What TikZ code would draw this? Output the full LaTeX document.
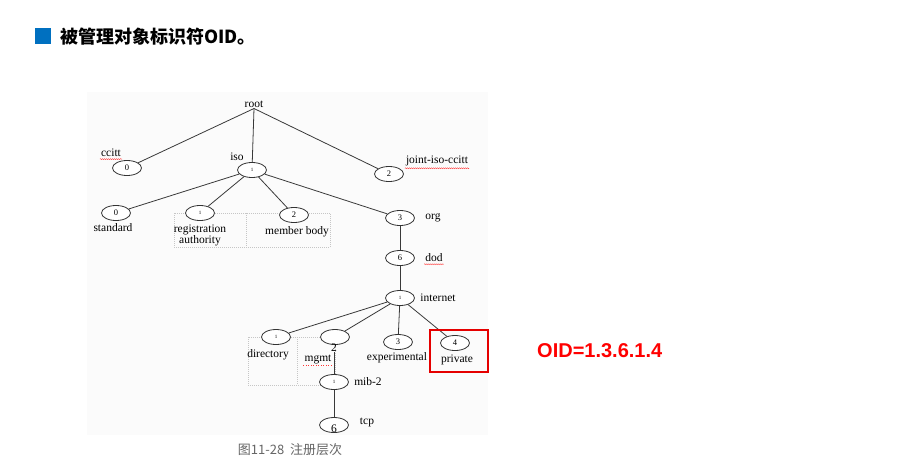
\documentclass[tikz,border=0pt]{standalone}
\usepackage{fontspec}
\setmainfont{Liberation Serif}
\newfontfamily\cjk{Noto Sans CJK SC}
\newfontfamily\arialfont{Liberation Sans}
\usetikzlibrary{shapes.geometric,decorations.pathmorphing}
\definecolor{titleblue}{HTML}{0070C0}
\begin{document}
\begin{tikzpicture}[x=1pt, y=-1pt, node distance=40pt,
    oid/.style={ellipse, draw=gray!40!black, fill=white, line width=0.8pt, minimum width=29pt, minimum height=15pt, inner sep=0pt, font=\fontsize{8.5}{8.5}\selectfont},
    lbl/.style={inner sep=1pt, font=\fontsize{11.5}{10.5}\selectfont},
    bignum/.style={inner sep=0pt, font=\fontsize{11.5}{11.5}\selectfont},
    link/.style={draw=gray!45!black, line width=0.8pt},
    cellbox/.style={draw=gray!45, line width=0.4pt, dash pattern=on 1pt off 1pt},
    squig/.style={draw=red!80, line width=0.4pt, decorate, decoration={snake, amplitude=0.5pt, segment length=2pt}}]
    \useasboundingbox (0,0) rectangle (912,472);
    \fill[white] (0,0) rectangle (912,472);
    \fill[black!1.5] (87,92) rectangle (488,435);
    % title
    \fill[titleblue] (35,28) rectangle (51,44);
    \node [anchor=west, inner sep=0pt, font=\cjk\bfseries\fontsize{18}{18}\selectfont] (title) at (60,37) {被管理对象标识符OID。};
    % dashed cells behind the labels
    \draw [cellbox] (174,213) rectangle (330,247);
    \draw [cellbox] (246,213) -- (246,247);
    \draw [cellbox] (248,337) rectangle (335,385);
    \draw [cellbox] (297,337) -- (297,385);
    % top level
    \node [lbl] (root) at (254,104) {root};
    \node [oid] (ccitt) at (127,168) {0};
    \node [lbl] (ccittl) at (111,153) {ccitt};
    \node [oid] (iso) at (252,170) {\tiny 1};
    \node [lbl] (isol) at (237,157) {iso};
    \node [oid] (joint) at (389,174) {2};
    \node [lbl] (jointl) at (437,161) {joint-iso-ccitt};
    % under iso
    \node [oid] (std) at (116,213) {0};
    \node [lbl] (stdl) at (113,228) {standard};
    \node [oid] (reg) at (200,213) {\tiny 1};
    \node [lbl, align=center] (regl) at (200,235.5) {registration\\authority};
    \node [oid] (mem) at (294,215) {2};
    \node [lbl] (meml) at (297,232) {member body};
    \node [oid] (org) at (400,218) {3};
    \node [lbl, right of=org, node distance=33pt] (orgl) {org};
    \node [oid, below of=org] (dod) {6};
    \node [lbl, right of=dod, node distance=34pt] (dodl) {dod};
    \node [oid, below of=dod] (internet) {\tiny 1};
    \node [lbl, right of=internet, node distance=38pt] (internetl) {internet};
    % under internet
    \node [oid] (dir) at (276,337) {\tiny 1};
    \node [lbl] (dirl) at (268,355) {directory};
    \node [oid] (mgmt) at (335,337) {};
    \node [lbl] (mgmtl) at (318,359) {mgmt};
    \node [oid] (exper) at (398,342) {3};
    \node [lbl] (experl) at (397,358) {experimental};
    \node [oid] (priv) at (455,343) {4};
    \node [lbl] (privl) at (457,360) {private};
    \node [oid] (mib) at (334,382) {\tiny 1};
    \node [lbl] (mibl) at (368,382) {mib-2};
    \node [oid] (tcp) at (334,425) {};
    \node [lbl] (tcpl) at (367,422) {tcp};
    % links
    \draw [link] (root.south) -- (ccitt);
    \draw [link] (root.south) -- (iso);
    \draw [link] (root.south) -- (joint);
    \draw [link] (iso) -- (std);
    \draw [link] (iso) -- (reg);
    \draw [link] (iso) -- (mem);
    \draw [link] (iso) -- (org);
    \draw [link] (org) -- (dod);
    \draw [link] (dod) -- (internet);
    \draw [link] (internet) -- (dir);
    \draw [link] (internet) -- (mgmt);
    \draw [link] (internet) -- (exper);
    \draw [link] (internet) -- (priv);
    \node [bignum] (mgmtn) at (334,348) {2};
    \node [bignum] (tcpn) at (334,429) {6};
    \draw [link] (mgmtn) -- (mib);
    \draw [link] (mib) -- (tcp);
    % spell-check marks
    \draw [squig] ([yshift=-1pt]ccittl.south west) -- ([yshift=-1pt]ccittl.south east);
    \draw [squig] ([yshift=-1pt]jointl.south west) -- ([yshift=-1pt]jointl.south east);
    \draw [squig] ([yshift=-1pt]dodl.south west) -- ([yshift=-1pt]dodl.south east);
    \draw [red!80, line width=0.5pt, dotted] ([yshift=-1pt]mgmtl.south west) -- ([yshift=-1pt]mgmtl.south east);
    % highlight
    \draw [red!90!black, line width=2pt] (430,330) rectangle (488,372);
    \node [anchor=west, inner sep=0pt, text=red, font=\arialfont\bfseries\fontsize{20}{20}\selectfont] (oidval) at (537,351) {OID=1.3.6.1.4};
    % caption
    \node [inner sep=0pt, text=gray!80!black, font=\cjk\fontsize{13}{13}\selectfont] (caption) at (290,450) {图11-28\ \ 注册层次};
\end{tikzpicture}
\end{document}
